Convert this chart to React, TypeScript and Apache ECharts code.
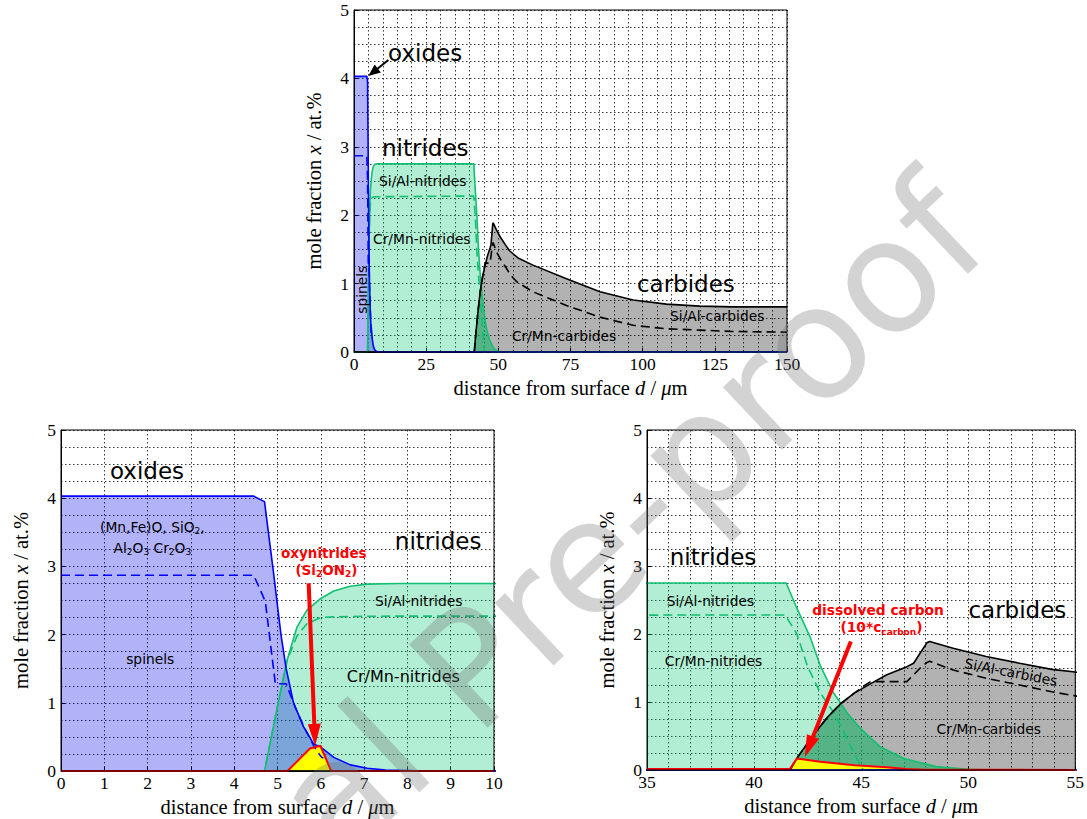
import React, { useEffect, useRef } from "react";
import * as echarts from "echarts";

type Pt = [number, number];

// ---- profiles: mole fraction (at.%) vs. distance from surface (µm) ----
const oxidesTotal: Pt[] = [
  [0, 4.03], [4.45, 4.03], [4.7, 3.95], [4.9, 2.95], [5.08, 2.0], [5.2, 1.5],
  [5.37, 1.0], [5.6, 0.65], [5.83, 0.4], [6.0, 0.35], [6.3, 0.2], [6.68, 0.09],
  [7.07, 0.04], [7.5, 0.015], [8.5, 0], [150, 0],
];
const spinels: Pt[] = [
  [0, 2.87], [4.45, 2.87], [4.64, 2.6], [4.72, 2.48], [4.95, 1.28], [5.2, 1.28],
  [5.4, 0.95], [5.6, 0.66], [5.83, 0.38], [5.9, 0.3], [6.02, 0.2], [6.06, 0.19],
];
const nitridesTotal: Pt[] = [
  [0, 0], [4.7, 0], [5.0, 0.95], [5.22, 1.62], [5.45, 2.11], [5.68, 2.36],
  [6.0, 2.53], [6.3, 2.64], [6.68, 2.71], [7.07, 2.74], [7.8, 2.75], [41.5, 2.75],
  [41.97, 2.4], [42.6, 1.97], [43.1, 1.53], [43.7, 1.14], [44.37, 0.83], [45.0, 0.6],
  [45.9, 0.34], [47.0, 0.17], [48.5, 0.05], [50, 0.01], [51, 0], [150, 0],
];
const nitridesSiAl: Pt[] = [
  [0, 0], [4.7, 0], [5.0, 0.95], [5.22, 1.62], [5.45, 1.98], [5.68, 2.16],
  [6.0, 2.25], [6.3, 2.26], [7.0, 2.27], [41.45, 2.28], [42.0, 2.0], [42.5, 1.52],
  [43.1, 1.13], [43.75, 0.83], [44.37, 0.44], [44.83, 0.15], [45.1, 0], [150, 0],
];
const carbidesTotal: Pt[] = [
  [0, 0], [41.67, 0], [42.06, 0.2], [42.83, 0.54], [43.44, 0.78], [44.06, 0.98],
  [44.68, 1.13], [45.45, 1.27], [46.2, 1.4], [47.14, 1.52], [47.45, 1.57],
  [47.76, 1.72], [48.07, 1.87], [48.2, 1.89], [49.3, 1.79], [50.84, 1.67],
  [52.4, 1.57], [53.9, 1.48], [55, 1.44], [57, 1.37], [62, 1.27], [73.6, 1.07],
  [85.2, 0.88], [96.7, 0.76], [108.2, 0.7], [119.8, 0.67], [131.3, 0.66], [150, 0.66],
];
const carbidesSiAl: Pt[] = [
  [41.67, 0], [42.06, 0.2], [42.83, 0.54], [43.44, 0.78], [44.06, 0.98],
  [44.68, 1.13], [45.2, 1.25], [45.45, 1.3], [47.14, 1.3], [47.76, 1.5],
  [48.07, 1.58], [48.2, 1.6], [49.3, 1.47], [50.84, 1.35], [52.4, 1.25],
  [53.9, 1.15], [55, 1.09], [56.3, 1.03], [62, 0.88], [73.6, 0.68], [85.2, 0.51],
  [96.7, 0.39], [108, 0.34], [119.8, 0.32], [131, 0.3], [150, 0.29],
];
const oxynitrides: Pt[] = [
  [0, 0], [5.23, 0], [5.75, 0.33], [5.99, 0.37], [6.24, 0], [10, 0],
];
// dissolved carbon, plotted as 10 * c_carbon
const dissolvedCarbon: Pt[] = [
  [35, 0.015], [41.67, 0.015], [42.0, 0.17], [43.1, 0.12], [44.7, 0.07],
  [46.2, 0.04], [47.1, 0.015], [48, 0.005], [55, 0],
];

// ---- axes of the three panels ----
const xMin = [0, 0, 35];
const xMax = [150, 10, 55];
const xStep = [25, 1, 5];
const xMinorSplits = [5, 0, 5];
const yMin = 0;
const yMax = 5;
const yStep = 1;
const yMinorSplits = 4;
// the overview panel (0) leaves out the small oxynitride / carbon traces
const showTraces = [false, true, true];

const FONT_SANS = "'DejaVu Sans', sans-serif";
const FONT_SERIF = "'Liberation Serif', 'DejaVu Serif', serif";

const gridBoxes = [
  { left: 354, top: 10, width: 433, height: 342 },
  { left: 61, top: 430, width: 433, height: 341 },
  { left: 647, top: 430, width: 433, height: 340 },
];

// text annotations, placed in each panel's data coordinates
type Note = {
  panel: number; x: number; y: number; text: string; size: number;
  align?: "left" | "center"; bold?: boolean; color?: string; rotate?: number;
};
const notes: Note[] = [
  { panel: 0, x: 11.8, y: 4.37, text: "oxides", size: 23 },
  { panel: 0, x: 9.7, y: 2.98, text: "nitrides", size: 23 },
  { panel: 0, x: 8.7, y: 2.5, text: "Si/Al-nitrides", size: 13.8 },
  { panel: 0, x: 6.6, y: 1.65, text: "Cr/Mn-nitrides", size: 13.8 },
  { panel: 0, x: 2.67, y: 0.91, text: "spinels", size: 13.8, align: "center", rotate: Math.PI / 2 },
  { panel: 0, x: 98, y: 0.99, text: "carbides", size: 23 },
  { panel: 0, x: 109.5, y: 0.53, text: "Si/Al-carbides", size: 13.8 },
  { panel: 0, x: 54.7, y: 0.23, text: "Cr/Mn-carbides", size: 13.8 },

  { panel: 1, x: 1.13, y: 4.4, text: "oxides", size: 23 },
  { panel: 1, x: 2.11, y: 3.58, text: "(Mn,Fe)O, SiO{s|2},", size: 13.8, align: "center" },
  { panel: 1, x: 2.11, y: 3.27, text: "Al{s|2}O{s|3} Cr{s|2}O{s|3}", size: 13.8, align: "center" },
  { panel: 1, x: 2.06, y: 1.64, text: "spinels", size: 13.8, align: "center" },
  { panel: 1, x: 7.71, y: 3.37, text: "nitrides", size: 23 },
  { panel: 1, x: 7.25, y: 2.49, text: "Si/Al-nitrides", size: 13.8 },
  { panel: 1, x: 6.6, y: 1.39, text: "Cr/Mn-nitrides", size: 16 },
  { panel: 1, x: 6.07, y: 3.2, text: "oxynitrides", size: 13.5, align: "center", bold: true, color: "#ff0000" },
  { panel: 1, x: 6.13, y: 2.95, text: "(Si{s|2}ON{s|2})", size: 13.5, align: "center", bold: true, color: "#ff0000" },

  { panel: 2, x: 36.06, y: 3.13, text: "nitrides", size: 23 },
  { panel: 2, x: 35.92, y: 2.49, text: "Si/Al-nitrides", size: 13.8 },
  { panel: 2, x: 35.83, y: 1.6, text: "Cr/Mn-nitrides", size: 13.8 },
  { panel: 2, x: 45.79, y: 2.35, text: "dissolved carbon", size: 13.8, align: "center", bold: true, color: "#ff0000" },
  { panel: 2, x: 45.95, y: 2.1, text: "(10*c{s|carbon})", size: 13.8, align: "center", bold: true, color: "#ff0000" },
  { panel: 2, x: 50.01, y: 2.36, text: "carbides", size: 23 },
  { panel: 2, x: 52.0, y: 1.44, text: "Si/Al-carbides", size: 13.8, align: "center", rotate: -0.19 },
  { panel: 2, x: 50.96, y: 0.6, text: "Cr/Mn-carbides", size: 13.8, align: "center" },
];

// pointer arrows: panel, start, centre of the head
const arrows: { panel: number; from: Pt; to: Pt; color: string; width: number; head: number[] }[] = [
  { panel: 0, from: [11.9, 4.27], to: [6.6, 4.09], color: "#000000", width: 2, head: [10, 12] },
  { panel: 1, from: [5.72, 2.75], to: [5.86, 0.53], color: "#ff0000", width: 4, head: [13, 22] },
  { panel: 2, from: [44.52, 1.89], to: [42.56, 0.34], color: "#ff0000", width: 4, head: [13, 22] },
];

// area below both curves (used to shade where nitrides and carbides overlap)
function valueAt(pts: Pt[], x: number): number {
  if (x < pts[0][0] || x > pts[pts.length - 1][0]) return 0;
  for (let i = 1; i < pts.length; i++) {
    const [x0, y0] = pts[i - 1];
    const [x1, y1] = pts[i];
    if (x >= x0 && x <= x1) {
      return x1 === x0 ? y1 : y0 + ((y1 - y0) * (x - x0)) / (x1 - x0);
    }
  }
  return 0;
}
function lowerEnvelope(a: Pt[], b: Pt[]): Pt[] {
  const xs = Array.from(new Set([...a, ...b].map((p) => p[0]))).sort((p, q) => p - q);
  const out: Pt[] = [];
  for (let i = 0; i < xs.length; i++) {
    const x = xs[i];
    if (i > 0) {
      const x0 = xs[i - 1];
      const d0 = valueAt(a, x0) - valueAt(b, x0);
      const d1 = valueAt(a, x) - valueAt(b, x);
      if (d0 * d1 < 0) {
        const xc = x0 + (d0 / (d0 - d1)) * (x - x0);
        out.push([xc, valueAt(a, xc)]);
      }
    }
    out.push([x, Math.min(valueAt(a, x), valueAt(b, x))]);
  }
  return out;
}

const BLUE = "#0000ff";
const GREEN = "#12c072";
const RED = "#ff0000";

export default function App() {
  const ref = useRef<HTMLDivElement>(null);

  useEffect(() => {
    if (!ref.current) return;
    const chart = echarts.init(ref.current, undefined, { renderer: "svg" });
    const overlap = lowerEnvelope(nitridesTotal, carbidesTotal);
    const dotted = { type: [1.5, 2.5], color: "#222", width: 0.9 };
    const nameStyle = {
      color: "#000", fontFamily: FONT_SERIF, fontSize: 20.5,
      rich: { i: { fontStyle: "italic", fontFamily: FONT_SERIF, fontSize: 20.5, color: "#000" } },
    };

    const xAxis = gridBoxes.map((_, i) => ({
      type: "value",
      gridIndex: i,
      min: xMin[i],
      max: xMax[i],
      interval: xStep[i],
      axisLine: { show: true, onZero: false, lineStyle: { color: "#000", width: 1 } },
      axisTick: { show: true, inside: true, length: 4, lineStyle: { color: "#000" } },
      axisLabel: { color: "#000", fontFamily: FONT_SERIF, fontSize: 17.5, margin: 3 },
      splitLine: { show: true, lineStyle: dotted },
      minorTick: { show: false, splitNumber: xMinorSplits[i] || 2 },
      minorSplitLine: { show: xMinorSplits[i] > 0, lineStyle: dotted },
      name: "distance from surface {i|d} / {i|μ}m",
      nameLocation: "middle",
      nameGap: 25,
      nameTextStyle: nameStyle,
    }));

    const yAxis = gridBoxes.map((_, i) => ({
      type: "value",
      gridIndex: i,
      min: yMin,
      max: yMax,
      interval: yStep,
      axisLine: { show: true, onZero: false, lineStyle: { color: "#000", width: 1 } },
      axisTick: { show: true, inside: true, length: 4, lineStyle: { color: "#000" } },
      axisLabel: { color: "#000", fontFamily: FONT_SERIF, fontSize: 17.5, margin: 5 },
      splitLine: { show: true, lineStyle: dotted },
      minorTick: { show: false, splitNumber: yMinorSplits },
      minorSplitLine: { show: true, lineStyle: dotted },
      name: "mole fraction {i|x} / at.%",
      nameLocation: "middle",
      nameRotate: 90,
      nameGap: 30,
      nameTextStyle: nameStyle,
    }));

    const series: any[] = [];
    gridBoxes.forEach((_, i) => {
      const base = { type: "line", xAxisIndex: i, yAxisIndex: i, symbol: "none", showSymbol: false, silent: true };
      const fill = (data: Pt[], color: string, z: number) => ({
        ...base, data, z, lineStyle: { width: 0, opacity: 0 }, areaStyle: { color, opacity: 1 },
      });
      const stroke = (data: Pt[], color: string, dashed: boolean, width: number, z: number) => ({
        ...base, data, z, lineStyle: { color, width, type: dashed ? [9, 5] : "solid" },
      });
      series.push(
        fill(carbidesTotal, "rgba(0,0,0,0.3)", 1),
        fill(nitridesTotal, "rgba(0,198,108,0.3)", 1),
        fill(oxidesTotal, "rgba(0,0,231,0.3)", 1),
        fill(overlap, "rgba(30,172,100,0.4)", 1),
      );
      if (showTraces[i]) {
        series.push(
          fill(oxynitrides, "#ffff00", 2),
          fill(dissolvedCarbon, "#ffff00", 2),
        );
      }
      series.push(
        stroke(nitridesTotal, GREEN, false, 1.6, 3),
        stroke(nitridesSiAl, GREEN, true, 1.6, 3),
        stroke(carbidesTotal, "#000", false, 1.6, 3),
        stroke(carbidesSiAl, "#000", true, 1.6, 3),
        stroke(oxidesTotal, BLUE, false, 1.6, 3),
        stroke(spinels, BLUE, true, 1.6, 3),
      );
      const last: any = showTraces[i]
        ? stroke(dissolvedCarbon, RED, false, 2, 4)
        : { ...base, data: [], z: 4 };
      if (showTraces[i]) series.push(stroke(oxynitrides, RED, false, 2, 4));

      const arr = arrows.filter((a) => a.panel === i);
      if (arr.length) {
        last.markLine = {
          silent: true,
          animation: false,
          label: { show: false },
          emphasis: { disabled: true },
          symbol: ["none", "triangle"],
          symbolSize: arr[0].head,
          lineStyle: { type: "solid", color: arr[0].color, width: arr[0].width },
          itemStyle: { color: arr[0].color },
          data: arr.map((a) => [{ coord: a.from }, { coord: a.to }]),
        };
      }
      series.push(last);
    });

    chart.setOption({
      animation: false,
      backgroundColor: "#fff",
      grid: gridBoxes.map((g) => ({
        ...g, show: true, z: 10, backgroundColor: "transparent", borderColor: "#000", borderWidth: 1,
      })),
      xAxis,
      yAxis,
      series,
    });

    const textGraphics = notes.map((n) => {
      const [px, py] = chart.convertToPixel({ gridIndex: n.panel } as any, [n.x, n.y]) as number[];
      const color = n.color || "#000";
      const weight = n.bold ? "bold" : "normal";
      return {
        type: "text",
        x: px,
        y: py,
        rotation: n.rotate || 0,
        z: 50,
        silent: true,
        style: {
          text: n.text,
          fill: color,
          fontFamily: FONT_SANS,
          fontSize: n.size,
          fontWeight: weight,
          align: n.align || "left",
          verticalAlign: "middle",
          lineHeight: n.size + 4,
          rich: {
            s: {
              fontFamily: FONT_SANS,
              fontSize: Math.round(n.size * 0.65),
              fontWeight: weight,
              fill: color,
              verticalAlign: "bottom",
              lineHeight: Math.round(n.size * 0.65),
            },
          },
        },
      };
    });

    chart.setOption({
      graphic: [
        ...textGraphics,
        {
          type: "text",
          x: 8,
          y: 1106,
          rotation: 0.757,
          z: 100,
          silent: true,
          style: {
            text: "Journal Pre-proof",
            fontFamily: FONT_SANS,
            fontSize: 157,
            fill: "rgba(110,110,110,0.3)",
            align: "left",
            verticalAlign: "middle",
          },
        },
      ],
    });

    return () => chart.dispose();
  }, []);

  return (
    <div
      ref={ref}
      style={{ position: "fixed", left: 0, top: 0, width: 1087, height: 819, background: "#fff" }}
    />
  );
}
